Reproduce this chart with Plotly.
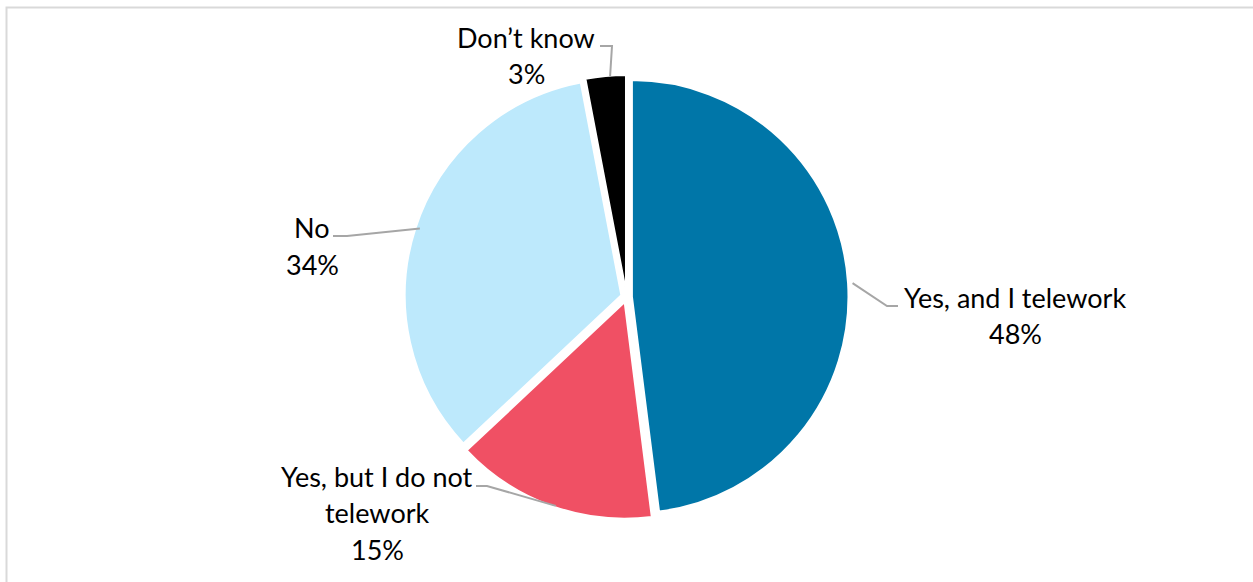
import math
import plotly.graph_objects as go

# Survey answers, clockwise from 12 o'clock
categories = ["Yes, and I telework", "Yes, but I do not telework", "No", "Don\u2019t know"]
shares = [48, 15, 34, 3]
colors = ["#0076A8", "#F05064", "#BDE9FC", "#000000"]

# Label text lines for each slice
label_lines = [
    ["Yes, and I telework", "48%"],
    ["Yes, but I do not", "telework", "15%"],
    ["No", "34%"],
    ["Don\u2019t know", "3%"],
]

W, H = 1253, 582
CX, CY = 631, 297          # pie centre (px)
OUTER = 222                # outer radius of the pulled slices (px)
PULL = 0.025

# Label layout (px): centre of first text line, leader elbow and end
label_pos = [(1015, 297), (377, 476), (312, 228), (526, 37)]
elbows = [((887, 306), (898, 306)), ((487, 486), (476, 486)),
          ((347, 236), (333, 236)), ((612, 46), (600, 46))]
LINE_STEP = 36.5


def px(x, y):
    return x / W, 1 - y / H


fig = go.Figure(go.Pie(
    labels=categories,
    values=shares,
    sort=False,
    direction="clockwise",
    rotation=0,
    pull=[PULL] * len(shares),
    marker=dict(colors=colors, line=dict(color="white", width=2)),
    textinfo="none",
    hoverinfo="label+percent",
    showlegend=False,
    domain=dict(x=[0.2, 0.8], y=[1 - (CY + OUTER) / H, 1 - (CY - OUTER) / H]),
))

shapes = [dict(type="path", xref="paper", yref="paper",
               path=f"M {6.5/W} {-0.1} L {6.5/W} {1-7.5/H} L {1.1} {1-7.5/H}",
               line=dict(color="#D9D9D9", width=2))]
annotations = []

total = sum(shares)
cum = 0
for i, v in enumerate(shares):
    mid = (cum + v / 2) / total * 2 * math.pi
    cum += v
    sx = CX + OUTER * math.sin(mid)
    sy = CY - OUTER * math.cos(mid)
    (ex, ey), (tx, ty) = elbows[i]
    p0, p1, p2 = px(sx, sy), px(ex, ey), px(tx, ty)
    shapes.append(dict(type="path", xref="paper", yref="paper",
                       path=f"M {p0[0]} {p0[1]} L {p1[0]} {p1[1]} L {p2[0]} {p2[1]}",
                       line=dict(color="#A6A6A6", width=2)))
    lx, ly = label_pos[i]
    for k, line in enumerate(label_lines[i]):
        ax, ay = px(lx, ly + k * LINE_STEP)
        annotations.append(dict(x=ax, y=ay, xref="paper", yref="paper", text=line,
                                showarrow=False, xanchor="center", yanchor="middle",
                                font=dict(family="Lato", size=27, color="#000000")))

fig.update_layout(
    width=W, height=H,
    margin=dict(l=0, r=0, t=0, b=0),
    paper_bgcolor="white",
    plot_bgcolor="white",
    shapes=shapes,
    annotations=annotations,
)

fig.write_html("out.html")
